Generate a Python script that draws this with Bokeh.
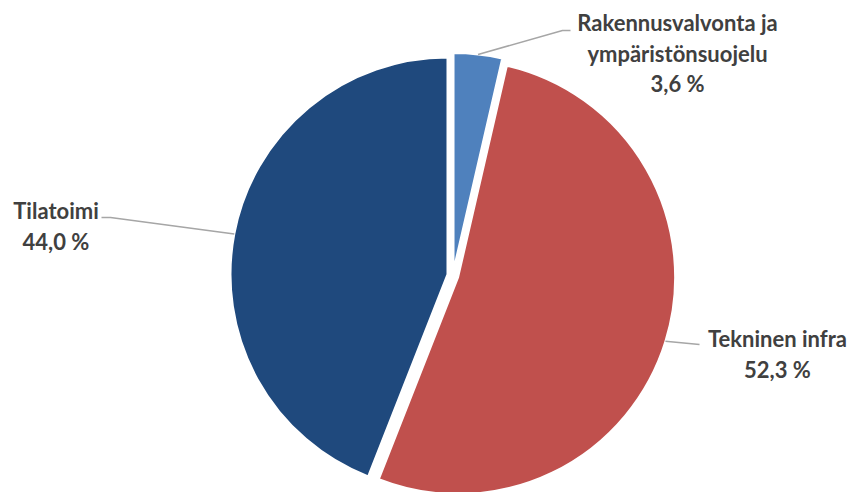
import math
import numpy as np
from bokeh.plotting import figure
from bokeh.models import Range1d, ColumnDataSource
from bokeh.core.properties import value
from bokeh.embed import file_html
from bokeh.resources import INLINE

# ---- data ----
categories = ["Rakennusvalvonta ja\nympäristönsuojelu", "Tekninen infra", "Tilatoimi"]
shares = [3.6, 52.3, 44.0]
colors = ["#4F81BD", "#C0504D", "#1F497D"]

# ---- layout (page pixel coordinates) ----
W, H = 850, 492
CX_PAGE, CY_PAGE = 452.4, 275.0
RADIUS = 217
EXPLODE = 5.5
label_x = [677, 777, 55.5]
label_first_baseline = [22, 338, 210]
LINE_STEP = 30.5
leader_elbows = [[(562, 30), (570, 30)], [(699, 344)], [(110, 217), (101, 217)]]


def py(y_page):
    return H - y_page


p = figure(width=W, height=H, x_range=Range1d(0, W), y_range=Range1d(0, H),
           output_backend="svg", toolbar_location=None, min_border=0)
p.axis.visible = False
p.grid.visible = False
p.outline_line_color = None
p.background_fill_color = "white"
p.border_fill_color = "white"

cx, cy = CX_PAGE, py(CY_PAGE)
total = sum(shares)
cum = np.cumsum([0] + shares) / total
start_deg = 90 - cum[1:] * 360
end_deg = 90 - cum[:-1] * 360
mid = np.radians((start_deg + end_deg) / 2)

src = ColumnDataSource(dict(
    x=cx + EXPLODE * np.cos(mid),
    y=cy + EXPLODE * np.sin(mid),
    start=np.radians(start_deg),
    end=np.radians(end_deg),
    color=colors,
))
p.wedge(x="x", y="y", radius=RADIUS, start_angle="start", end_angle="end",
        fill_color="color", line_color="white", line_width=2, source=src)

# leader lines
for i in range(len(shares)):
    sx = cx + (RADIUS + EXPLODE) * math.cos(mid[i])
    sy = cy + (RADIUS + EXPLODE) * math.sin(mid[i])
    xs = [sx] + [e[0] for e in leader_elbows[i]]
    ys = [sy] + [py(e[1]) for e in leader_elbows[i]]
    p.line(xs, ys, line_color="#A6A6A6", line_width=1.5)

# labels
tx, ty, tt = [], [], []
for i, name in enumerate(categories):
    pct = f"{shares[i]:.1f}".replace(".", ",") + " %"
    lines = name.split("\n") + [pct]
    for j, ln in enumerate(lines):
        tx.append(label_x[i])
        ty.append(py(label_first_baseline[i] + j * LINE_STEP))
        tt.append(ln)
p.text(x=tx, y=ty, text=tt, text_font=value("Lato"), text_font_style="bold",
       text_font_size="22px", text_color="#404040", text_align="center",
       text_baseline="alphabetic")

open("out.html", "w").write(file_html(p, INLINE))
